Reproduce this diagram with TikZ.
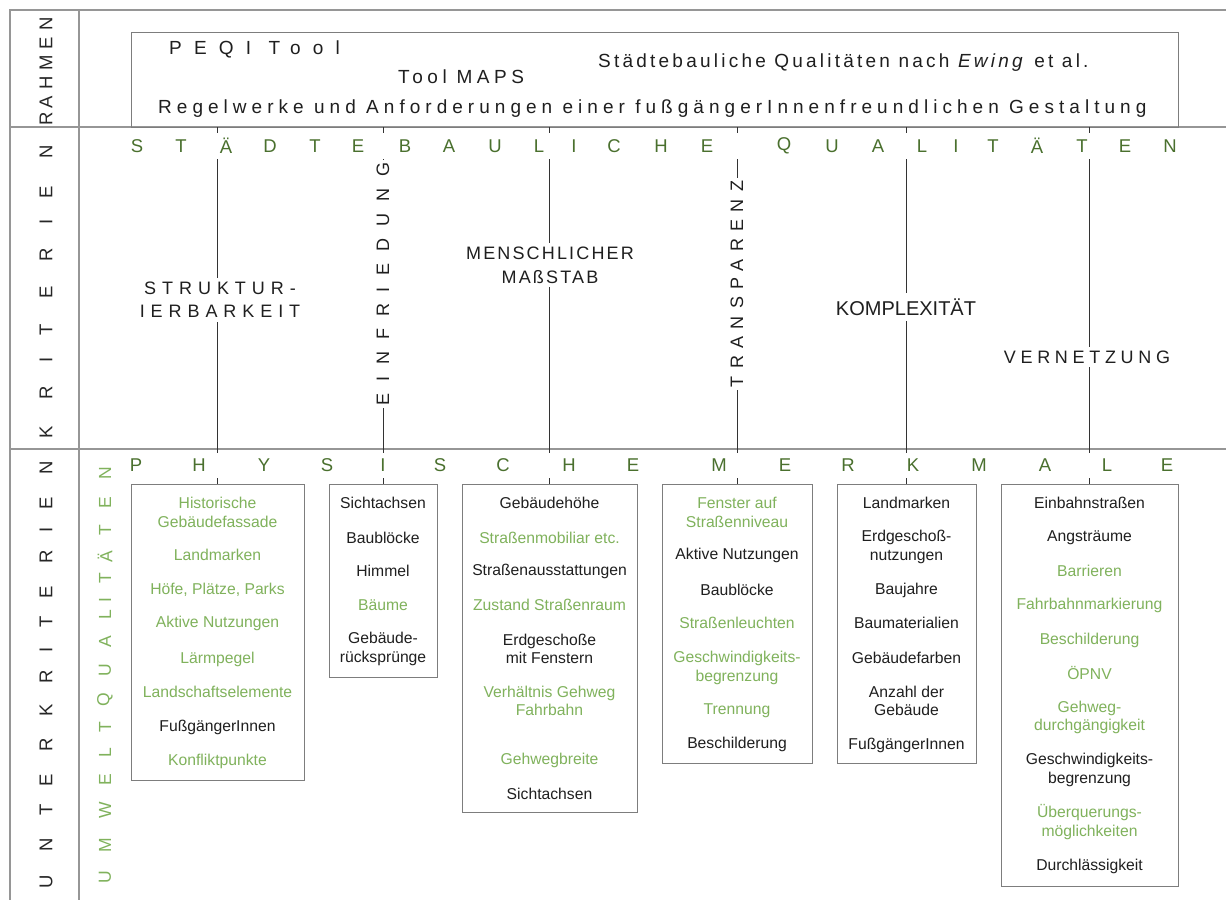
\documentclass[tikz,border=0pt]{standalone}
\usepackage{fontspec}
\setmainfont{Liberation Sans}
\definecolor{headgreen}{RGB}{74,112,46}
\definecolor{itemgreen}{RGB}{128,178,92}
\definecolor{framegray}{RGB}{150,150,150}
\definecolor{boxgray}{RGB}{125,125,125}
\begin{document}
\begin{tikzpicture}[x=1pt,y=-1pt,
  frameline/.style={draw=framegray, line width=1.1pt},
  conn/.style={draw=black!80, line width=1pt},
  itembox/.style={draw=boxgray, line width=1pt, inner sep=0, fill=none},
  item/.style={font=\fontsize{15.7}{18.5}\selectfont, align=center, inner sep=0},
  gi/.style={item, text=itemgreen},
  ki/.style={item, text=black!88},
  hl/.style={font=\fontsize{18.5}{20}\selectfont, text=headgreen, inner sep=0},
  vl/.style={font=\fontsize{18.5}{20}\selectfont, text=black!85, rotate=90, inner sep=0},
  ul/.style={font=\fontsize{17.5}{20}\selectfont, text=itemgreen, rotate=90, inner sep=0},
  crit/.style={fill=white, align=center, inner xsep=2pt, inner ysep=4pt, text=black!88},
  toptext/.style={anchor=west, inner sep=0, text=black!88}
]
\useasboundingbox (0,0) rectangle (1226,900);
\fill[white] (0,0) rectangle (1226,900);

% frame
\coordinate (f1) at (10,10);
\coordinate (f2) at (1226,10);
\coordinate (f3) at (10,900);
\coordinate (g1) at (79,10);
\coordinate (g2) at (79,900);
\coordinate (r1a) at (10,127);
\coordinate (r1b) at (1226,127);
\coordinate (r2a) at (10,449);
\coordinate (r2b) at (1226,449);
\draw[frameline] (f2) -- (f1) -- (f3);
\draw[frameline] (g1) -- (g2);
\draw[frameline] (r1a) -- (r1b);
\draw[frameline] (r2a) -- (r2b);

% top box
\node[draw=boxgray, line width=1pt, anchor=north west, minimum width=1047pt, minimum height=95pt, inner sep=0] (rahmenbox) at (131,32) {};
\node[toptext, font=\fontsize{19}{21}\selectfont\addfontfeature{LetterSpace=64}] (peqi) at (169,49) {PEQI Tool};
\node[toptext, font=\fontsize{19}{21}\selectfont\addfontfeature{LetterSpace=24}] (maps) at (398,77) {Tool MAPS};
\node[toptext, font=\fontsize{19}{21}\selectfont\addfontfeature{LetterSpace=17}] (ewing) at (598,63) {Städtebauliche Qualitäten nach \textit{Ewing} et al.};
\node[toptext, font=\fontsize{19}{21}\selectfont\addfontfeature{LetterSpace=26.5}] (regel) at (158,109) {Regelwerke und Anforderungen einer fußgängerInnenfreundlichen Gestaltung};

% left column labels
\foreach \l/\yy in {R/119, A/102, H/83, M/63, E/43, N/24}
  \node[vl] (ra\yy) at (46,\yy) {\l};
\foreach \l/\yy in {K/432, R/393, I/360, T/330, E/292, R/255, I/222, E/192, N/152}
  \node[vl] (kr\yy) at (46,\yy) {\l};
\foreach \l/\yy in {U/882, N/845, T/810, E/780, R/745, K/710, R/677, I/650, T/622, E/592, R/557, I/530, E/503, N/468}
  \node[vl] (uk\yy) at (46,\yy) {\l};
\foreach \l/\yy in {U/877, M/845, W/810, E/780, L/753, T/727, Q/700, U/670, A/642, L/615, I/600, T/578, Ä/557, T/530, E/503, N/473}
  \node[ul] (uq\yy) at (105,\yy) {\l};

% boxes
\node[itembox, minimum width=173pt, minimum height=296pt] (b1) at (217.5,632) {};
\node[itembox, minimum width=108pt, minimum height=193pt] (b2) at (383,580.5) {};
\node[itembox, minimum width=175pt, minimum height=328pt] (b3) at (549.5,648) {};
\node[itembox, minimum width=150pt, minimum height=279pt] (b4) at (737,623.5) {};
\node[itembox, minimum width=139pt, minimum height=279pt] (b5) at (906.5,623.5) {};
\node[itembox, minimum width=177pt, minimum height=402pt] (b6) at (1089.5,685) {};

% connectors
\coordinate (t1) at (217.5,127);
\coordinate (t2) at (383,127);
\coordinate (t3) at (549.5,127);
\coordinate (t4) at (737,127);
\coordinate (t5) at (906.5,127);
\coordinate (t6) at (1089.5,127);
\draw[conn] (t1) -- (b1.north);
\draw[conn] (t2) -- (b2.north);
\draw[conn] (t3) -- (b3.north);
\draw[conn] (t4) -- (b4.north);
\draw[conn] (t5) -- (b5.north);
\draw[conn] (t6) -- (b6.north);

% white strips behind heading rows
\fill[white] (125,133) rectangle (1185,159);
\fill[white] (125,453) rectangle (1185,478);

% heading letters
\foreach \l/\xx in {S/137, T/181, Ä/226, D/270, T/315, E/358, B/405, A/449, U/495, L/539, I/574, C/614, H/661, E/707, Q/784, U/832, A/878, L/922, I/956, T/993, Ä/1037, T/1082, E/1125, N/1170}
  \node[hl] (sq\xx) at (\xx,146) {\l};
\foreach \l/\xx in {P/136, H/199, Y/264, S/327, I/383, S/440, C/503, H/569, E/633, M/719, E/785, R/848, K/913, M/979, A/1045, L/1107, E/1167}
  \node[hl] (pm\xx) at (\xx,465) {\l};

% criteria labels
\node[crit, font=\fontsize{18}{23}\selectfont\addfontfeature{LetterSpace=33}] (struk) at (220,300) {STRUKTUR-\\IERBARKEIT};
\node[crit, rotate=90, inner xsep=3pt, inner ysep=1pt, font=\fontsize{18}{20}\selectfont\addfontfeature{LetterSpace=66}] (einf) at (383,284) {EINFRIEDUNG};
\node[crit, font=\fontsize{18}{24}\selectfont\addfontfeature{LetterSpace=12}] (mensch) at (550,265) {MENSCHLICHER\\MAßSTAB};
\node[crit, rotate=90, inner xsep=3pt, inner ysep=1pt, font=\fontsize{18}{20}\selectfont\addfontfeature{LetterSpace=41}] (trans) at (737,284) {TRANSPARENZ};
\node[crit, font=\fontsize{20}{22}\selectfont, inner ysep=6pt] (kompl) at (906,307) {KOMPLEXITÄT};
\node[crit, font=\fontsize{18}{20}\selectfont\addfontfeature{LetterSpace=26}] (vern) at (1087,357) {VERNETZUNG};

% box 1
\node[gi] (i11) at (217.5,512.5) {Historische\\Gebäudefassade};
\node[gi] (i12) at (217.5,555) {Landmarken};
\node[gi] (i13) at (217.5,590) {Höfe, Plätze, Parks};
\node[gi] (i14) at (217.5,623) {Aktive Nutzungen};
\node[gi] (i15) at (217.5,659) {Lärmpegel};
\node[gi] (i16) at (217.5,692) {Landschaftselemente};
\node[ki] (i17) at (217.5,727) {FußgängerInnen};
\node[gi] (i18) at (217.5,761) {Konfliktpunkte};
% box 2
\node[ki] (i21) at (383,503) {Sichtachsen};
\node[ki] (i22) at (383,538) {Baublöcke};
\node[ki] (i23) at (383,571) {Himmel};
\node[gi] (i24) at (383,605) {Bäume};
\node[ki] (i25) at (383,649) {Gebäude-\\rücksprünge};
% box 3
\node[ki] (i31) at (549.5,503) {Gebäudehöhe};
\node[gi] (i32) at (549.5,538) {Straßenmobiliar etc.};
\node[ki] (i33) at (549.5,571) {Straßenausstattungen};
\node[gi] (i34) at (549.5,605) {Zustand Straßenraum};
\node[ki] (i35) at (549.5,649) {Erdgeschoße\\mit Fenstern};
\node[gi] (i36) at (549.5,701) {Verhältnis Gehweg\\Fahrbahn};
\node[gi] (i37) at (549.5,760) {Gehwegbreite};
\node[ki] (i38) at (549.5,794) {Sichtachsen};
% box 4
\node[gi] (i41) at (737,512.5) {Fenster auf\\Straßenniveau};
\node[ki] (i42) at (737,555) {Aktive Nutzungen};
\node[ki] (i43) at (737,590) {Baublöcke};
\node[gi] (i44) at (737,623) {Straßenleuchten};
\node[gi] (i45) at (737,668) {Geschwindigkeits-\\begrenzung};
\node[gi] (i46) at (737,711) {Trennung};
\node[ki] (i47) at (737,744) {Beschilderung};
% box 5
\node[ki] (i51) at (906.5,503) {Landmarken};
\node[ki] (i52) at (906.5,547) {Erdgeschoß-\\nutzungen};
\node[ki] (i53) at (906.5,590) {Baujahre};
\node[ki] (i54) at (906.5,623) {Baumaterialien};
\node[ki] (i55) at (906.5,658) {Gebäudefarben};
\node[ki] (i56) at (906.5,701) {Anzahl der\\Gebäude};
\node[ki] (i57) at (906.5,745) {FußgängerInnen};
% box 6
\node[ki] (i61) at (1089.5,503) {Einbahnstraßen};
\node[ki] (i62) at (1089.5,538) {Angsträume};
\node[gi] (i63) at (1089.5,571) {Barrieren};
\node[gi] (i64) at (1089.5,605) {Fahrbahnmarkierung};
\node[gi] (i65) at (1089.5,640) {Beschilderung};
\node[gi] (i66) at (1089.5,673) {ÖPNV};
\node[gi] (i67) at (1089.5,717.5) {Gehweg-\\durchgängigkeit};
\node[ki] (i68) at (1089.5,770) {Geschwindigkeits-\\begrenzung};
\node[gi] (i69) at (1089.5,822) {Überquerungs-\\möglichkeiten};
\node[ki] (i60) at (1089.5,866) {Durchlässigkeit};
\end{tikzpicture}
\end{document}
